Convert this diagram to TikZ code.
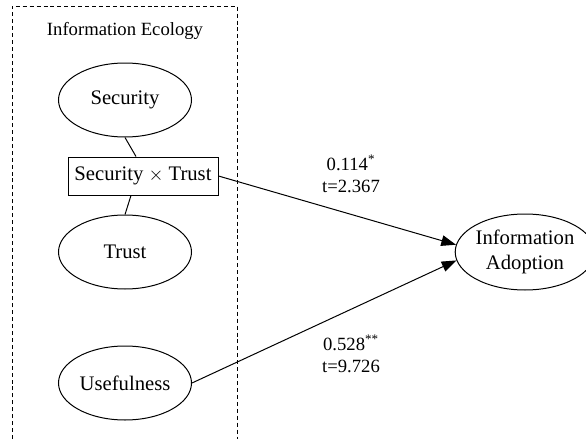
\documentclass[tikz,border=0pt]{standalone}
\usepackage{fontspec}
\setmainfont{Liberation Serif}
\usetikzlibrary{arrows.meta,calc,shapes.geometric}

\begin{document}
\begin{tikzpicture}[x = 0.75pt, y = -0.75pt, line width = 0.75pt,
                      latent/.style = {ellipse, draw, inner sep = 0pt, minimum width = 99.75pt, minimum height = 55.5pt,
                                       font = \fontsize{15.5}{18.75}\selectfont, align = center},
                      product/.style = {rectangle, draw, inner sep = 0pt, minimum width = 112.5pt, minimum height = 28.5pt,
                                        font = \fontsize{15.5}{18.75}\selectfont},
                      coef/.style = {align = center, font = \fontsize{14}{16.5}\selectfont},
                      causal/.style = {-{Triangle[length = 11pt, width = 8pt]}}]
    \useasboundingbox (0, 0) rectangle (586, 439);

    % cluster
    \draw [dashed, dash pattern = on 3pt off 2.2pt] (12, 439) |- (237, 6) -- (237, 439);
    \node [font = \fontsize{14}{16}\selectfont] (eco) at (125, 31) {Information Ecology};

    \node [latent] (sec) at (125, 100) {Security};
    \node [product] (prod) at (143, 176) {Security $\times$ Trust};
    \node [latent] (trust) at (125, 252) {Trust};
    \node [latent] (use) at (125, 383) {Usefulness};
    \node [latent, minimum width = 93.75pt, minimum height = 57pt] (adopt) at (525, 252) {Information\\Adoption};

    \node [coef] (c1) at (351, 174) {0.114\textsuperscript{*}\\t=2.367};
    \node [coef] (c2) at (351, 354) {0.528\textsuperscript{**}\\t=9.726};

    \draw (sec.south) -- ($(prod.north) + (-7, 0)$);
    \draw ($(prod.south) + (-12, 0)$) -- (trust.north);
    \draw [causal] (prod.east) -- (adopt.174);
    \draw [causal] (use.east) -- (adopt.187);
\end{tikzpicture}
\end{document}
